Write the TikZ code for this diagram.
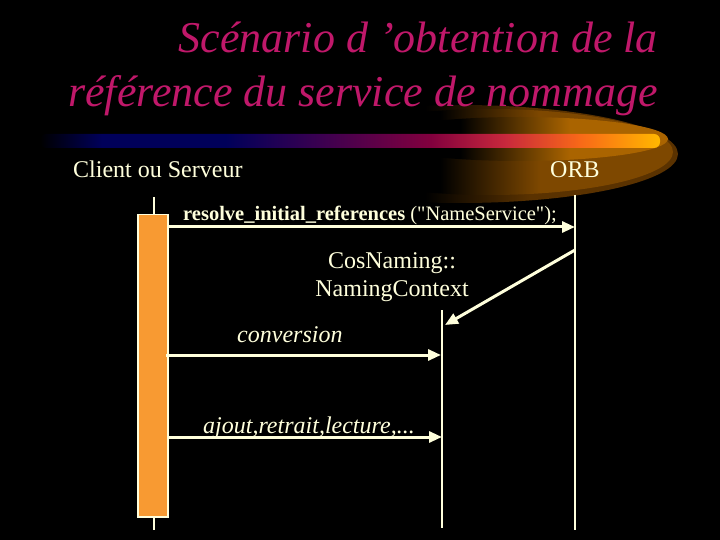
\documentclass[tikz,border=0pt]{standalone}
\usepackage{fontspec}
\setmainfont{Liberation Serif}
\newfontfamily\rawserif{Liberation Serif}
\usetikzlibrary{arrows.meta}
\definecolor{titlecol}{HTML}{C0186A}
\definecolor{cream}{HTML}{FFFFDC}
\definecolor{boxorange}{HTML}{F89A32}
\definecolor{navyc}{HTML}{00005A}
\definecolor{purpc}{HTML}{3A0050}
\definecolor{magc}{HTML}{82003E}
\definecolor{redc}{HTML}{C8283C}
\definecolor{orc}{HTML}{F86818}
\definecolor{yelc}{HTML}{FFB800}
\definecolor{glowa}{HTML}{5A3200}
\definecolor{glowb}{HTML}{7E4800}
\definecolor{glowc}{HTML}{AA6400}
\pgfdeclarehorizontalshading{barshade}{100bp}{color(0bp)=(black); color(25bp)=(black); color(30bp)=(navyc); color(40bp)=(navyc); color(47.5bp)=(purpc); color(56.5bp)=(magc); color(62.5bp)=(redc); color(68.5bp)=(orc); color(75bp)=(yelc); color(100bp)=(yelc)}
\pgfdeclarehorizontalshading{glowshadea}{100bp}{color(0bp)=(black); color(46bp)=(black); color(58bp)=(glowa); color(100bp)=(glowa)}
\pgfdeclarehorizontalshading{glowshadeb}{100bp}{color(0bp)=(black); color(43.2bp)=(black); color(56.8bp)=(glowb); color(100bp)=(glowb)}
\pgfdeclarehorizontalshading{glowshadec}{100bp}{color(0bp)=(black); color(39.9bp)=(black); color(58.4bp)=(glowc); color(100bp)=(glowc)}
\tikzset{
  lifeline/.style={draw=cream, line width=2pt},
  msg/.style={draw=cream, line width=3pt, -{Triangle[length=13pt,width=11pt]}},
  lbl/.style={text=cream, inner sep=0pt, font=\fontsize{24}{24}\selectfont},
  titletxt/.style={text=titlecol, inner sep=0pt, font=\fontsize{44}{44}\selectfont\itshape},
}
\begin{document}
\begin{tikzpicture}[x=1pt,y=-1pt]
\fill[black] (0,0) rectangle (720,540);
\useasboundingbox (0,0) rectangle (720,540);
% glow
\shade[shading=glowshadea] (460,154) ellipse[x radius=218, y radius=49];
\shade[shading=glowshadeb] (490,152) ellipse[x radius=183, y radius=43];
\shade[shading=glowshadec] (520,139) ellipse[x radius=148, y radius=22];
% bar
\shade[shading=barshade, rounded corners=6] (40,134) -- (660,134) -- (660,148) -- (40,148) -- cycle;
% title
\node[titletxt, anchor=base east] (t1) at (658,53) {Scénario d ’obtention de la};
\node[titletxt, anchor=base east] (t2) at (658,107) {référence du service de nommage};
% participants
\node[lbl, anchor=base west] (client) at (73,178) {Client ou Serveur};
\node[lbl, anchor=base west] (orb) at (550,178) {ORB};
% lifelines
\coordinate (cltop) at (154,197);
\coordinate (clbot) at (154,530);
\coordinate (orbtop) at (575,195);
\coordinate (orbbot) at (575,530);
\coordinate (nctop) at (442,310);
\coordinate (ncbot) at (442,528);
\draw[lifeline] (cltop) -- (clbot);
\draw[lifeline] (orbtop) -- (orbbot);
\draw[lifeline] (nctop) -- (ncbot);
\node[draw=cream, line width=1.5pt, fill=boxorange, minimum width=30pt, minimum height=302pt, inner sep=0pt, anchor=north] (act) at (153,214) {};
% messages
\coordinate (m1s) at (168,227);
\coordinate (m1e) at (575,227);
\draw[msg] (m1s) -- (m1e);
\node[text=cream, inner sep=0pt, anchor=base west, font=\fontsize{20.5}{20.5}\selectfont\rawserif] (m1l) at (183,221) {\textbf{resolve\_initial\_references} ("NameService");};
\node[lbl, align=center, anchor=base, font=\fontsize{24}{28}\selectfont] (ret) at (392,296) {CosNaming::\\NamingContext};
\coordinate (rs) at (575,250);
\coordinate (re) at (445,325);
\draw[msg] (rs) -- (re);
\coordinate (m2s) at (166,355);
\coordinate (m2e) at (441,355);
\draw[msg] (m2s) -- (m2e);
\node[lbl, anchor=base west, font=\fontsize{24}{24}\selectfont\itshape] (m2l) at (237,342) {conversion};
\coordinate (m3s) at (168,437);
\coordinate (m3e) at (442,437);
\draw[msg] (m3s) -- (m3e);
\node[lbl, anchor=base west, font=\fontsize{24}{24}\selectfont\itshape] (m3l) at (203,433) {ajout,retrait,lecture,...};
\end{tikzpicture}
\end{document}
